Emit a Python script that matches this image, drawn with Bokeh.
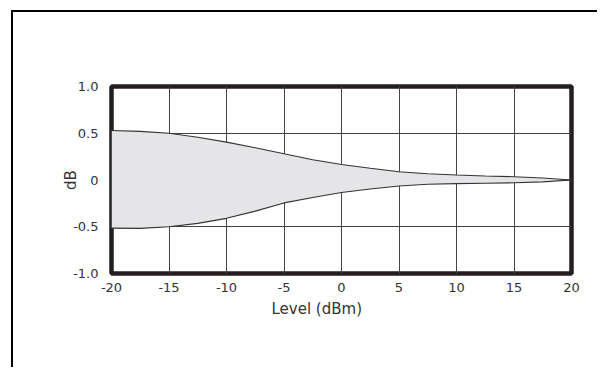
from bokeh.plotting import figure
from bokeh.models import FixedTicker, Range1d, Title, InlineStyleSheet
from bokeh.embed import file_html
from bokeh.resources import INLINE

# ---- data ----
level_dbm = [-20, -17.5, -15, -12.5, -10, -7.5, -5, -2.5, 0, 2.5, 5, 7.5, 10, 12.5, 15, 17.5, 20]
upper_db = [0.53, 0.52, 0.50, 0.457, 0.405, 0.345, 0.28, 0.217, 0.165, 0.125, 0.088, 0.067, 0.053, 0.043, 0.035, 0.022, 0.0]
lower_db = [-0.515, -0.517, -0.50, -0.464, -0.41, -0.333, -0.245, -0.187, -0.133, -0.096, -0.064, -0.046, -0.039, -0.034, -0.03, -0.02, 0.0]

x_ticks = [-20, -15, -10, -5, 0, 5, 10, 15, 20]
x_tick_labels = ["-20", "-15", "-10", "-5", "0", "5", "10", "15", "20"]
y_ticks = [-1.0, -0.5, 0.0, 0.5, 1.0]
y_tick_labels = ["-1.0", "-0.5", "0", "0.5", "1.0"]
x_title = "Level (dBm)"
y_title = "dB"

FONT = "DejaVu Sans"
TXT = "#333333"

border_css = InlineStyleSheet(css="""
:host::after {
  content: "";
  position: absolute;
  left: 11px; top: 10px; right: 0px; bottom: 0px;
  border-left: 2px solid #000;
  border-top: 2px solid #000;
  pointer-events: none;
  z-index: 5;
}
""")

p = figure(width=597, height=367, output_backend="svg", toolbar_location=None,
           x_range=Range1d(-20, 20), y_range=Range1d(-1, 1),
           min_border_left=111, min_border_right=26, min_border_top=86, min_border_bottom=94,
           stylesheets=[border_css])

p.background_fill_color = "white"
p.border_fill_color = "white"
p.outline_line_color = "#231f20"
p.outline_line_width = 4.5

# fill between curves
p.varea(x=level_dbm, y1=lower_db, y2=upper_db, fill_color="#e5e5e7")

# grid
for g in (p.xgrid, p.ygrid):
    g.grid_line_color = "#444444"
    g.grid_line_width = 1
p.xgrid.ticker = FixedTicker(ticks=x_ticks)
p.ygrid.ticker = FixedTicker(ticks=y_ticks)

p.line(level_dbm, upper_db, line_color="#333333", line_width=1.1)
p.line(level_dbm, lower_db, line_color="#333333", line_width=1.1)

# axes
p.xaxis.ticker = FixedTicker(ticks=x_ticks)
p.yaxis.ticker = FixedTicker(ticks=y_ticks)
p.xaxis.major_label_overrides = {t: l for t, l in zip(x_ticks, x_tick_labels)}
p.yaxis.major_label_overrides = {t: l for t, l in zip(y_ticks, y_tick_labels)}
for ax in (p.xaxis[0], p.yaxis[0]):
    ax.axis_line_color = None
    ax.major_tick_line_color = None
    ax.minor_tick_line_color = None
    ax.major_tick_out = 0
    ax.major_tick_in = 0
    ax.major_label_text_font = FONT
    ax.major_label_text_font_size = "13px"
    ax.major_label_text_color = TXT
p.xaxis.major_label_standoff = 9
p.yaxis.major_label_standoff = 13

# y title
p.yaxis.axis_label = y_title
p.yaxis.axis_label_text_font = FONT
p.yaxis.axis_label_text_font_size = "15px"
p.yaxis.axis_label_text_font_style = "normal"
p.yaxis.axis_label_text_color = TXT
p.yaxis.axis_label_standoff = -10

# x title as a Title below, shifted left of centre
p.add_layout(Title(text=x_title, align="left", offset=160, text_font=FONT,
                   text_font_size="15px", text_font_style="normal", text_color=TXT,
                   standoff=7), "below")

open("out.html", "w").write(file_html(p, INLINE))
